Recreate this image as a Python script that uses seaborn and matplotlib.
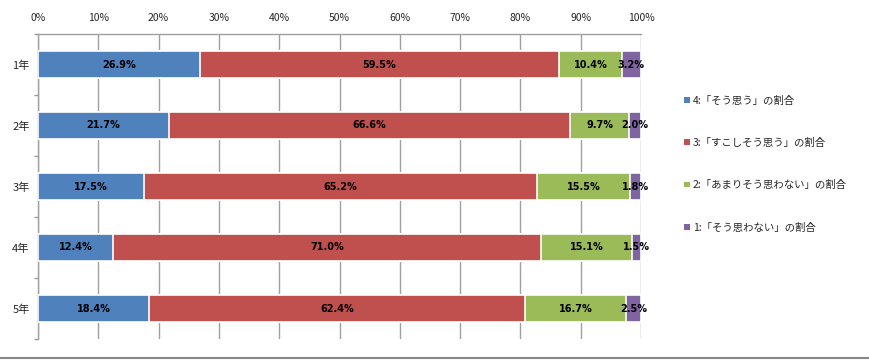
import matplotlib
matplotlib.use("Agg")
import matplotlib.pyplot as plt
import numpy as np
import pandas as pd
import seaborn as sns
from matplotlib.lines import Line2D
from matplotlib.patches import Patch

# Data
grades = ["1年", "2年", "3年", "4年", "5年"]
series_names = [
    "4:「そう思う」の割合",
    "3:「すこしそう思う」の割合",
    "2:「あまりそう思わない」の割合",
    "1:「そう思わない」の割合",
]
agree = [26.9, 21.7, 17.5, 12.4, 18.4]
somewhat_agree = [59.5, 66.6, 65.2, 71.0, 62.4]
somewhat_disagree = [10.4, 9.7, 15.5, 15.1, 16.7]
disagree = [3.2, 2.0, 1.8, 1.5, 2.5]
colors = ["#4F81BD", "#C0504D", "#9BBB59", "#8064A2"]

sns.set_theme(style="white")
plt.rcParams["font.family"] = ["Noto Sans CJK JP", "DejaVu Sans"]

values = np.array([agree, somewhat_agree, somewhat_disagree, disagree])
cum = values.cumsum(axis=0)

fig = plt.figure(figsize=(8.7, 3.6), dpi=100)
ax = fig.add_axes([38 / 870, 1 - 339 / 360, 603 / 870, 305 / 360])

# draw cumulative bars from the longest down so they stack
for i in range(3, -1, -1):
    df = pd.DataFrame({"grade": grades, "value": cum[i]})
    sns.barplot(data=df, x="value", y="grade", orient="h", color=colors[i],
                saturation=1, width=0.43, edgecolor="white", linewidth=1.2,
                ax=ax, zorder=3)

# segment labels
for i in range(4):
    for j in range(len(grades)):
        center = cum[i, j] - values[i, j] / 2
        ax.text(center, j, f"{values[i, j]:.1f}%", ha="center", va="center",
                fontsize=7, fontweight="bold", color="black", zorder=5,
                family=["DejaVu Sans"])

ax.set_xlim(0, 100)
ax.set_ylim(4.5, -0.5)
ax.set_xticks(np.arange(0, 101, 10))
ax.set_xticklabels([f"{v}%" for v in range(0, 101, 10)], fontsize=7.5)
ax.xaxis.tick_top()
ax.tick_params(axis="x", length=0, pad=8)
ax.tick_params(axis="y", which="major", length=0, labelsize=8, pad=6)
ax.set_yticks(np.arange(-0.5, 5, 1), minor=True)
ax.tick_params(axis="y", which="minor", length=3, color="#999999", left=True)
ax.set_xlabel("")
ax.set_ylabel("")
ax.grid(axis="x", color="#a0a0a0", linewidth=1, zorder=0)
ax.grid(axis="y", visible=False)
for side in ["bottom", "right"]:
    ax.spines[side].set_visible(False)
for side in ["left", "top"]:
    ax.spines[side].set_color("#a0a0a0")
    ax.spines[side].set_linewidth(1)

handles = [Patch(facecolor=c, edgecolor="none") for c in colors]
fig.legend(handles, series_names, loc="center left",
           bbox_to_anchor=(675 / 870, 1 - 164 / 360), frameon=False,
           fontsize=7.5, handlelength=0.5, handleheight=0.5,
           handletextpad=0.3, labelspacing=3.1)

# bottom frame line of the image
fig.add_artist(Line2D([0, 1], [1 - 358 / 360] * 2, color="#888888",
                      linewidth=1.5, transform=fig.transFigure))

fig.savefig("out.png", dpi=100, facecolor="white")
